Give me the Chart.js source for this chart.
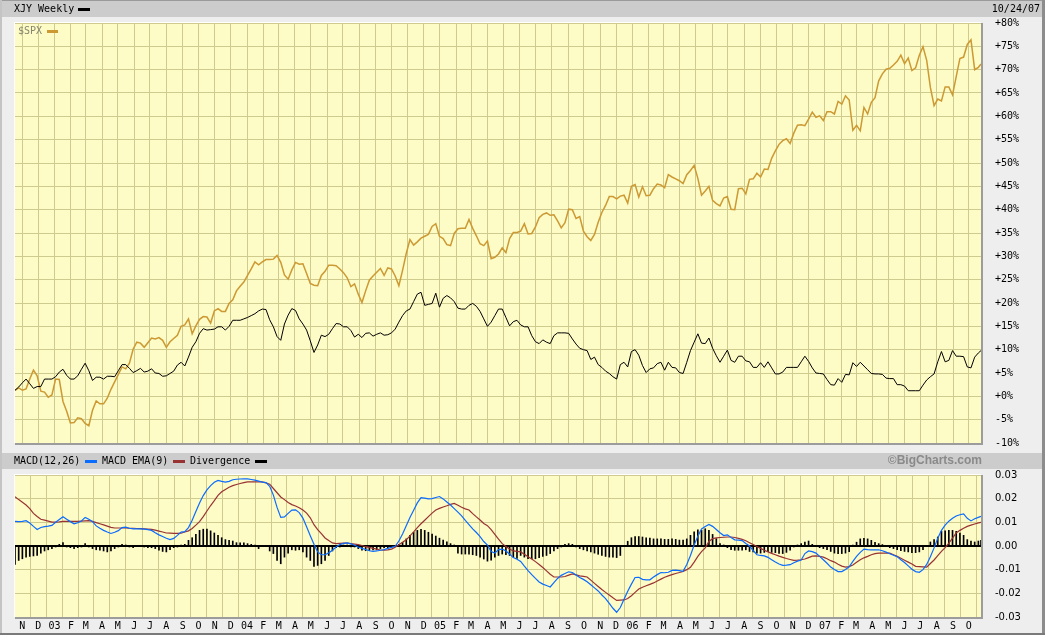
<!DOCTYPE html>
<html><head><meta charset="utf-8">
<script src="https://cdn.jsdelivr.net/npm/chart.js@4/dist/chart.umd.min.js"></script>
<style>
html,body{margin:0;padding:0;background:#eeeeee;}
#wrap{position:relative;width:1045px;height:635px;background:#eeeeee;overflow:hidden;font-family:"DejaVu Sans Mono","Liberation Mono",monospace;font-size:10px;color:#000;}
.abs{position:absolute;}
.band{background:#cccccc;}
.txt{position:absolute;white-space:nowrap;line-height:12px;z-index:5;}
.sw{position:absolute;height:3px;z-index:5;}
canvas{position:absolute;left:0;z-index:2;}
</style></head>
<body>
<div id="wrap">
  <div class="abs band" style="left:2px;top:1px;width:1040px;height:16px;"></div>
  <div class="abs" style="left:0;top:0;width:1045px;height:1px;background:#9a9a9a;"></div>
  <div class="abs band" style="left:2px;top:453px;width:1040px;height:16px;"></div>
  <div class="abs" style="left:0;top:0;width:2px;height:635px;background:#c4c4c4;"></div>
  <div class="abs" style="left:1042px;top:0;width:3px;height:635px;background:#8c8c8c;"></div>
  <div class="abs" style="left:0;top:633px;width:1045px;height:2px;background:#7a7a7a;"></div>

  <div class="txt" style="left:14px;top:3px;">XJY Weekly</div>
  <div class="sw" style="left:78px;top:8px;width:12px;background:#000;"></div>
  <div class="txt" style="right:5px;top:3px;">10/24/07</div>

  <div class="txt" style="left:18px;top:25px;color:#85856c;">$SPX</div>
  <div class="sw" style="left:47px;top:30px;width:11px;background:#cc9933;"></div>

  <div class="txt" style="left:14px;top:455px;">MACD(12,26)</div>
  <div class="sw" style="left:85px;top:460px;width:12px;background:#0a6cff;"></div>
  <div class="txt" style="left:102px;top:455px;">MACD EMA(9)</div>
  <div class="sw" style="left:173px;top:460px;width:12px;background:#993333;"></div>
  <div class="txt" style="left:190px;top:455px;">Divergence</div>
  <div class="sw" style="left:255px;top:460px;width:12px;background:#000;"></div>
  <div class="txt" style="right:63px;top:454px;font-family:'Liberation Sans',Arial,sans-serif;font-weight:bold;font-size:12px;color:#8a8a8a;">&copy;BigCharts.com</div>

  <canvas id="c1" width="1045" height="450" style="top:0;"></canvas>
  <canvas id="c2" width="1045" height="185" style="top:450px;"></canvas>
</div>
<script>
// ---------------- DATA ----------------
const startDateStr = '2002-10-18';
const endDateStr = '2007-10-24';

// XJY weekly, % change
const xjyValues = [
1.3,2.0,2.9,3.7,2.7,1.7,2.1,2.1,3.7,3.7,
3.7,4.2,5.2,5.8,4.5,3.7,3.7,4.4,5.8,7.1,
5.5,3.4,4.1,4.1,3.7,4.3,4.3,4.2,5.5,6.8,
6.8,6.0,5.1,5.5,6.0,5.2,5.4,5.9,5.0,4.9,
4.3,4.4,4.9,5.4,6.7,7.3,6.5,8.4,10.5,11.7,
13.5,14.5,14.2,14.3,14.4,14.9,14.9,14.2,15.0,16.3,
16.3,16.3,16.6,16.9,17.3,17.7,18.3,18.7,18.6,16.4,
14.9,12.8,12.0,15.5,17.4,18.8,18.4,16.6,15.5,14.2,
11.9,9.4,11.0,13.1,12.8,13.3,14.5,15.6,15.5,14.9,
14.9,14.1,12.7,13.3,12.6,13.5,13.6,12.9,13.3,13.6,
13.1,13.2,13.6,14.4,15.9,17.3,18.3,18.7,20.3,21.9,
22.3,19.5,19.7,19.9,22.1,19.1,21.0,21.6,21.1,20.3,
18.9,18.7,18.7,19.5,19.9,19.3,18.2,16.6,15.0,15.9,
17.3,18.7,18.7,16.9,15.1,16.0,16.3,15.3,14.9,14.9,
13.0,11.7,11.3,12.1,11.6,11.3,13.0,13.6,13.6,13.6,
13.5,12.3,11.2,10.3,10.0,9.8,7.9,8.4,6.8,6.2,
5.4,4.9,4.2,3.7,6.8,7.3,6.3,9.6,10.0,8.8,
6.6,5.1,5.9,6.1,7.0,7.3,5.6,7.3,6.2,6.1,
5.1,4.9,7.3,9.8,11.6,13.4,11.4,11.3,12.5,10.3,
8.7,7.3,8.6,9.9,7.7,7.3,8.6,8.6,7.6,7.4,
6.2,6.2,7.2,6.2,7.4,6.1,4.8,4.8,5.2,6.2,
6.2,6.2,6.2,7.4,8.6,7.5,6.1,5.0,4.9,4.8,
3.6,2.5,2.4,3.8,3.0,4.7,4.6,7.2,6.4,7.3,
6.5,5.7,4.9,4.8,4.8,4.7,3.9,3.8,3.8,2.5,
2.5,2.2,1.2,1.2,1.2,1.2,2.4,3.5,4.2,4.8,
7.4,9.6,7.4,7.7,9.8,8.6,8.6,8.5,6.3,6.1,
8.4,9.3,9.8];

// $SPX weekly, % change
const spxValues = [
1.3,1.8,1.3,1.6,3.7,5.6,4.4,1.1,0.9,-0.2,
0.3,3.7,3.6,-1.1,-3.2,-5.7,-5.6,-4.6,-4.8,-5.8,
-6.3,-3.0,-1.0,-1.6,-1.6,-0.4,1.5,3.1,4.7,6.3,
5.9,7.1,10.1,11.6,11.4,10.5,11.5,12.5,12.3,12.6,
12.0,10.5,11.7,12.4,13.1,15.0,15.3,16.6,13.4,15.1,
16.5,17.1,17.0,15.7,18.3,18.8,18.2,18.2,19.9,20.7,
22.6,23.6,24.5,25.9,27.3,28.8,28.2,28.8,29.3,29.3,
29.4,30.2,28.7,26.0,25.1,27.1,28.7,28.3,28.4,26.3,
24.2,23.8,23.7,25.9,26.8,28.1,28.1,28.0,27.3,26.5,
25.4,23.5,24.1,21.9,20.1,22.6,24.9,25.8,26.6,27.4,
25.9,27.5,27.3,25.8,23.7,27.0,30.6,33.6,32.4,33.1,
33.9,34.3,34.7,36.4,37.0,34.3,33.8,32.5,32.3,34.9,
35.9,36.0,36.0,37.9,36.0,34.4,32.7,32.3,33.3,29.5,
29.8,30.5,31.8,30.8,33.8,35.1,35.1,35.4,37.0,34.8,
34.9,36.3,38.3,39.0,39.3,38.8,38.9,37.6,36.1,37.2,
40.1,40.0,38.1,38.5,35.4,34.2,33.4,34.7,37.3,39.4,
40.9,42.8,42.8,42.3,42.9,43.1,41.4,45.0,45.4,42.7,
44.9,43.0,43.1,44.5,45.5,45.3,44.7,47.5,47.0,46.6,
46.2,45.6,47.5,48.4,49.5,46.7,43.1,44.0,45.0,42.0,
41.3,40.8,42.5,42.8,40.1,40.0,44.5,44.6,43.4,46.5,
46.6,47.8,47.0,48.7,48.6,51.0,52.6,54.0,54.8,55.2,
54.2,56.4,58.1,58.2,58.0,59.4,60.9,59.8,60.1,59.1,
61.0,61.0,60.5,63.2,62.6,64.4,63.5,57.0,58.1,56.9,
61.9,60.5,63.0,64.0,67.6,69.1,70.1,70.3,71.0,71.8,
73.1,71.3,72.5,69.8,70.4,73.1,74.9,72.0,66.2,62.3,
63.7,63.3,66.3,66.3,64.6,68.5,72.4,72.7,75.4,76.4,
70.0,70.5,71.2];

// MACD(12,26)
const macdValues = [
.0104,.0103,.0104,.0107,.0097,.0083,.0070,.0078,.0082,.0084,
.0087,.0100,.0112,.0124,.0113,.0103,.0094,.0098,.0106,.0121,
.0113,.0103,.0085,.0075,.0066,.0059,.0053,.0058,.0065,.0078,
.0080,.0075,.0072,.0072,.0072,.0071,.0069,.0066,.0056,.0047,
.0040,.0033,.0027,.0032,.0045,.0059,.0061,.0078,.0109,.0146,
.0182,.0213,.0237,.0255,.0269,.0277,.0273,.0270,.0273,.0280,
.0282,.0283,.0284,.0284,.0281,.0278,.0274,.0270,.0268,.0252,
.0215,.0163,.0121,.0123,.0138,.0152,.0153,.0141,.0118,.0081,
.0043,.0007,-.0025,-.0037,-.0037,-.0029,-.0018,-.0004,.0006,.0011,
.0013,.0009,.0003,-.0004,-.0010,-.0015,-.0020,-.0023,-.0021,-.0018,
-.0015,-.0010,-.0006,-.0001,.0021,.0051,.0086,.0120,.0151,.0182,
.0204,.0202,.0199,.0200,.0205,.0209,.0199,.0186,.0173,.0158,
.0143,.0127,.0108,.0090,.0072,.0057,.0040,.0019,.0004,-.0023,
-.0030,-.0015,-.0013,-.0021,-.0034,-.0049,-.0056,-.0065,-.0085,-.0104,
-.0121,-.0137,-.0152,-.0161,-.0167,-.0173,-.0155,-.0137,-.0124,-.0116,
-.0109,-.0112,-.0123,-.0133,-.0141,-.0151,-.0164,-.0177,-.0190,-.0207,
-.0222,-.0242,-.0263,-.0280,-.0260,-.0225,-.0191,-.0161,-.0133,-.0132,
-.0141,-.0143,-.0143,-.0131,-.0121,-.0112,-.0113,-.0111,-.0103,-.0102,
-.0104,-.0107,-.0078,-.0040,.0004,.0041,.0072,.0082,.0091,.0083,
.0070,.0056,.0044,.0047,.0036,.0026,.0025,.0023,.0011,.0000,
-.0019,-.0037,-.0040,-.0042,-.0048,-.0058,-.0068,-.0076,-.0082,-.0081,
-.0079,-.0071,-.0064,-.0059,-.0032,-.0021,-.0024,-.0030,-.0044,-.0058,
-.0073,-.0089,-.0099,-.0108,-.0108,-.0099,-.0088,-.0065,-.0044,-.0027,
-.0013,-.0015,-.0016,-.0016,-.0016,-.0020,-.0026,-.0033,-.0039,-.0045,
-.0058,-.0070,-.0084,-.0098,-.0108,-.0111,-.0100,-.0078,-.0045,-.0008,
.0033,.0066,.0088,.0105,.0117,.0127,.0132,.0136,.0117,.0106,
.0115,.0121,.0125];

// MACD EMA(9)
const emaValues = [
.0208,.0196,.0185,.0173,.0158,.0138,.0125,.0113,.0109,.0105,
.0101,.0101,.0102,.0104,.0104,.0104,.0104,.0104,.0105,.0106,
.0107,.0104,.0099,.0094,.0089,.0084,.0079,.0076,.0076,.0076,
.0076,.0075,.0075,.0074,.0073,.0072,.0071,.0070,.0067,.0063,
.0059,.0055,.0054,.0053,.0053,.0054,.0059,.0064,.0074,.0088,
.0103,.0124,.0148,.0171,.0192,.0214,.0229,.0239,.0248,.0255,
.0260,.0264,.0268,.0271,.0271,.0271,.0271,.0271,.0267,.0261,
.0243,.0225,.0207,.0196,.0184,.0175,.0169,.0162,.0152,.0139,
.0119,.0090,.0069,.0052,.0034,.0023,.0013,.0010,.0011,.0012,
.0012,.0010,.0008,.0006,.0002,-.0003,-.0006,-.0010,-.0013,-.0017,
-.0018,-.0016,-.0013,-.0005,.0005,.0016,.0026,.0043,.0060,.0078,
.0094,.0109,.0124,.0139,.0152,.0159,.0165,.0170,.0176,.0180,
.0172,.0164,.0157,.0152,.0137,.0123,.0110,.0095,.0086,.0069,
.0049,.0029,.0010,-.0002,-.0013,-.0021,-.0023,-.0025,-.0035,-.0045,
-.0055,-.0066,-.0078,-.0091,-.0105,-.0119,-.0131,-.0131,-.0131,-.0129,
-.0123,-.0118,-.0122,-.0126,-.0128,-.0131,-.0144,-.0158,-.0171,-.0184,
-.0196,-.0207,-.0219,-.0230,-.0229,-.0228,-.0222,-.0210,-.0196,-.0182,
-.0174,-.0168,-.0162,-.0156,-.0148,-.0140,-.0132,-.0126,-.0121,-.0116,
-.0112,-.0107,-.0100,-.0090,-.0068,-.0044,-.0024,-.0008,.0019,.0031,
.0034,.0036,.0037,.0038,.0038,.0036,.0032,.0028,.0022,.0014,
.0006,-.0002,-.0010,-.0018,-.0025,-.0031,-.0037,-.0043,-.0048,-.0053,
-.0057,-.0061,-.0060,-.0058,-.0055,-.0049,-.0043,-.0042,-.0044,-.0047,
-.0054,-.0062,-.0068,-.0077,-.0085,-.0089,-.0087,-.0080,-.0069,-.0058,
-.0050,-.0044,-.0037,-.0032,-.0030,-.0030,-.0030,-.0030,-.0037,-.0044,
-.0052,-.0060,-.0068,-.0076,-.0086,-.0087,-.0088,-.0089,-.0074,-.0059,
-.0041,-.0023,-.0007,.0012,.0033,.0055,.0066,.0075,.0083,.0088,
.0093,.0098,.0100];

// Divergence histogram
const divergenceValues = [
-.0078,-.0061,-.0054,-.0047,-.0044,-.0042,-.0040,-.0030,-.0021,-.0016,
-.0011,-.0001,.0007,.0014,-.0004,-.0007,-.0011,-.0007,-.0001,.0010,
-.0004,-.0011,-.0016,-.0018,-.0021,-.0025,-.0021,-.0011,-.0001,.0007,
.0003,-.0001,-.0007,0,0,-.0004,-.0007,-.0007,-.0011,-.0018,
-.0023,-.0025,-.0016,-.0007,-.0004,.0003,.0007,.0024,.0035,.0049,
.0066,.0071,.0071,.0064,.0055,.0045,.0035,.0027,.0024,.0021,
.0014,.0013,.0013,.0010,.0007,.0003,-.0011,0,0,-.0021,
-.0032,-.0061,-.0075,-.0047,-.0030,-.0016,-.0018,-.0016,-.0025,-.0047,
-.0061,-.0086,-.0082,-.0075,-.0061,-.0040,-.0021,-.0007,-.0001,.0003,
.0003,-.0001,-.0004,-.0011,-.0018,-.0020,-.0019,-.0017,-.0016,-.0011,
-.0007,-.0007,-.0004,0,.0007,.0015,.0030,.0045,.0058,.0066,
.0070,.0066,.0058,.0050,.0042,.0033,.0025,.0018,.0010,.0003,
-.0030,-.0034,-.0034,-.0034,-.0037,-.0040,-.0047,-.0055,-.0064,-.0060,
-.0047,-.0040,-.0034,-.0037,-.0040,-.0047,-.0052,-.0040,-.0047,-.0054,
-.0054,-.0054,-.0049,-.0044,-.0040,-.0032,-.0021,-.0011,-.0004,.0007,
.0010,.0007,-.0004,-.0011,-.0016,-.0021,-.0025,-.0030,-.0035,-.0040,
-.0044,-.0047,-.0047,-.0049,-.0040,0,.0020,.0035,.0040,.0040,
.0038,.0035,.0033,.0030,.0030,.0030,.0028,.0028,.0030,.0028,
.0025,.0025,.0030,.0045,.0060,.0068,.0066,.0073,.0066,.0049,
.0031,.0010,.0003,-.0007,-.0016,-.0018,-.0018,-.0018,-.0016,-.0023,
-.0025,-.0030,-.0030,-.0027,-.0024,-.0027,-.0028,-.0031,-.0032,-.0027,
-.0018,-.0004,.0003,.0010,.0017,.0021,.0007,0,-.0007,-.0011,
-.0016,-.0023,-.0030,-.0032,-.0032,-.0030,-.0024,.0003,.0016,.0030,
.0032,.0030,.0024,.0016,.0010,.0006,0,-.0007,-.0011,-.0016,
-.0020,-.0023,-.0025,-.0028,-.0028,-.0025,-.0016,0,.0017,.0027,
.0038,.0062,.0064,.0066,.0066,.0062,.0055,.0045,.0027,.0021,
.0017,.0021,.0024];

const monthLetters = ['J','F','M','A','M','J','J','A','S','O','N','D'];
const mainTickValues = [-10,-5,0,5,10,15,20,25,30,35,40,45,50,55,60,65,70,75,80];
const macdTickValues = [-0.03,-0.02,-0.01,0,0.01,0.02,0.03];
const macdTickLabels = ['-0.03','-0.02','-0.01','0.00','0.01','0.02','0.03'];

// ---------------- categories (weekly dates as day offsets) ----------------
const DAY = 86400000;
const t0 = Date.parse(startDateStr + 'T00:00:00Z');
const tEnd = Date.parse(endDateStr + 'T00:00:00Z');
const weekDays = [];
for (let i = 0; i < xjyValues.length - 1; i++) weekDays.push(i * 7);
weekDays.push((tEnd - t0) / DAY);
const maxDay = weekDays[weekDays.length - 1];

const monthTickDays = [], monthTickLabels = [];
{
  let y = 2002, m = 10;
  while (y < 2007 || (y === 2007 && m <= 9)) {
    monthTickDays.push((Date.UTC(y, m, 1) - t0) / DAY);
    monthTickLabels.push(m === 0 ? String(y % 100).padStart(2, '0') : monthLetters[m]);
    m++; if (m > 11) { m = 0; y++; }
  }
}
const pts = arr => arr.map((v, i) => ({ x: weekDays[i], y: v }));

// ---------------- styling ----------------
const GRID = '#cfca8e';
const PLOT_BG = '#fdfbc6';
const MONO = 'DejaVu Sans Mono';

const panelPlugin = {
  id: 'panel',
  beforeDraw(chart) {
    const { left, top, right, bottom } = chart.chartArea;
    const ctx = chart.ctx;
    ctx.save();
    ctx.fillStyle = PLOT_BG;
    ctx.fillRect(left, top, right - left, bottom - top);
    ctx.restore();
  },
  afterDraw(chart) {
    const { left, top, right, bottom } = chart.chartArea;
    const ctx = chart.ctx;
    ctx.save();
    ctx.fillStyle = '#ffffff';
    ctx.fillRect(left - 1, top - 1, right - left + 1, 1);
    ctx.fillRect(left - 1, top - 1, 1, bottom - top + 1);
    ctx.fillStyle = '#9c9c9c';
    ctx.fillRect(right, top, 2, bottom - top + 2);
    ctx.fillRect(left, bottom, right - left + 2, 2);
    ctx.restore();
  }
};

function xAxis(showLabels) {
  return {
    type: 'linear', min: 0, max: maxDay, offset: false,
    afterBuildTicks: s => { s.ticks = monthTickDays.map(v => ({ value: v })); },
    ticks: {
      display: showLabels, autoSkip: false, maxRotation: 0, minRotation: 0, padding: 3,
      color: '#000', font: { family: MONO, size: 10 },
      callback: (v, i) => monthTickLabels[i]
    },
    grid: { color: GRID, lineWidth: 1, drawTicks: false },
    border: { display: false },
    afterFit: s => { s.height = showLabels ? 18 : 0; s.paddingLeft = 0; s.paddingRight = 0; }
  };
}

function yFit(s) { s.width = 64; s.paddingTop = 0; s.paddingBottom = 0; }

const baseOpts = {
  responsive: false, animation: false, devicePixelRatio: 1,
  events: [],
  plugins: { legend: { display: false }, tooltip: { enabled: false } },
  elements: { point: { radius: 0, hoverRadius: 0 }, line: { tension: 0 } }
};

new Chart(document.getElementById('c1'), {
  type: 'line',
  data: {
    datasets: [
      { data: pts(xjyValues), borderColor: '#000000', borderWidth: 1, order: 1 },
      { data: pts(spxValues), borderColor: '#cc9933', borderWidth: 1.5, order: 2 }
    ]
  },
  options: Object.assign({}, baseOpts, {
    layout: { padding: { left: 15, top: 23, bottom: 7, right: 0 } },
    scales: {
      x: xAxis(false),
      y: {
        position: 'right', min: -10, max: 80,
        afterBuildTicks: s => { s.ticks = mainTickValues.map(v => ({ value: v })); },
        ticks: { padding: 14, color: '#000', font: { family: MONO, size: 10 },
          callback: v => (v >= 0 ? '+' : '') + v + '%' },
        grid: { color: GRID, lineWidth: 1, drawTicks: false },
        border: { display: false },
        afterFit: yFit
      }
    }
  }),
  plugins: [panelPlugin]
});

new Chart(document.getElementById('c2'), {
  type: 'line',
  data: {
    datasets: [
      { type: 'bar', data: pts(divergenceValues), backgroundColor: '#000000', barThickness: 1, order: 3 },
      { data: pts(emaValues), borderColor: '#993333', borderWidth: 1.2, order: 2 },
      { data: pts(macdValues), borderColor: '#0a6cff', borderWidth: 1.2, order: 1 }
    ]
  },
  options: Object.assign({}, baseOpts, {
    layout: { padding: { left: 15, top: 25, bottom: 0, right: 0 } },
    scales: {
      x: xAxis(true),
      y: {
        position: 'right', min: -0.03, max: 0.03,
        afterBuildTicks: s => { s.ticks = macdTickValues.map(v => ({ value: v })); },
        ticks: { padding: 14, color: '#000', font: { family: 'DejaVu Sans', size: 10 },
          callback: (v, i) => macdTickLabels[i] },
        grid: {
          color: c => (c.tick && Math.abs(c.tick.value) < 1e-9) ? '#000000' : GRID,
          lineWidth: c => (c.tick && Math.abs(c.tick.value) < 1e-9) ? 2 : 1,
          drawTicks: false
        },
        border: { display: false },
        afterFit: yFit
      }
    }
  }),
  plugins: [panelPlugin]
});
</script>
</body></html>
